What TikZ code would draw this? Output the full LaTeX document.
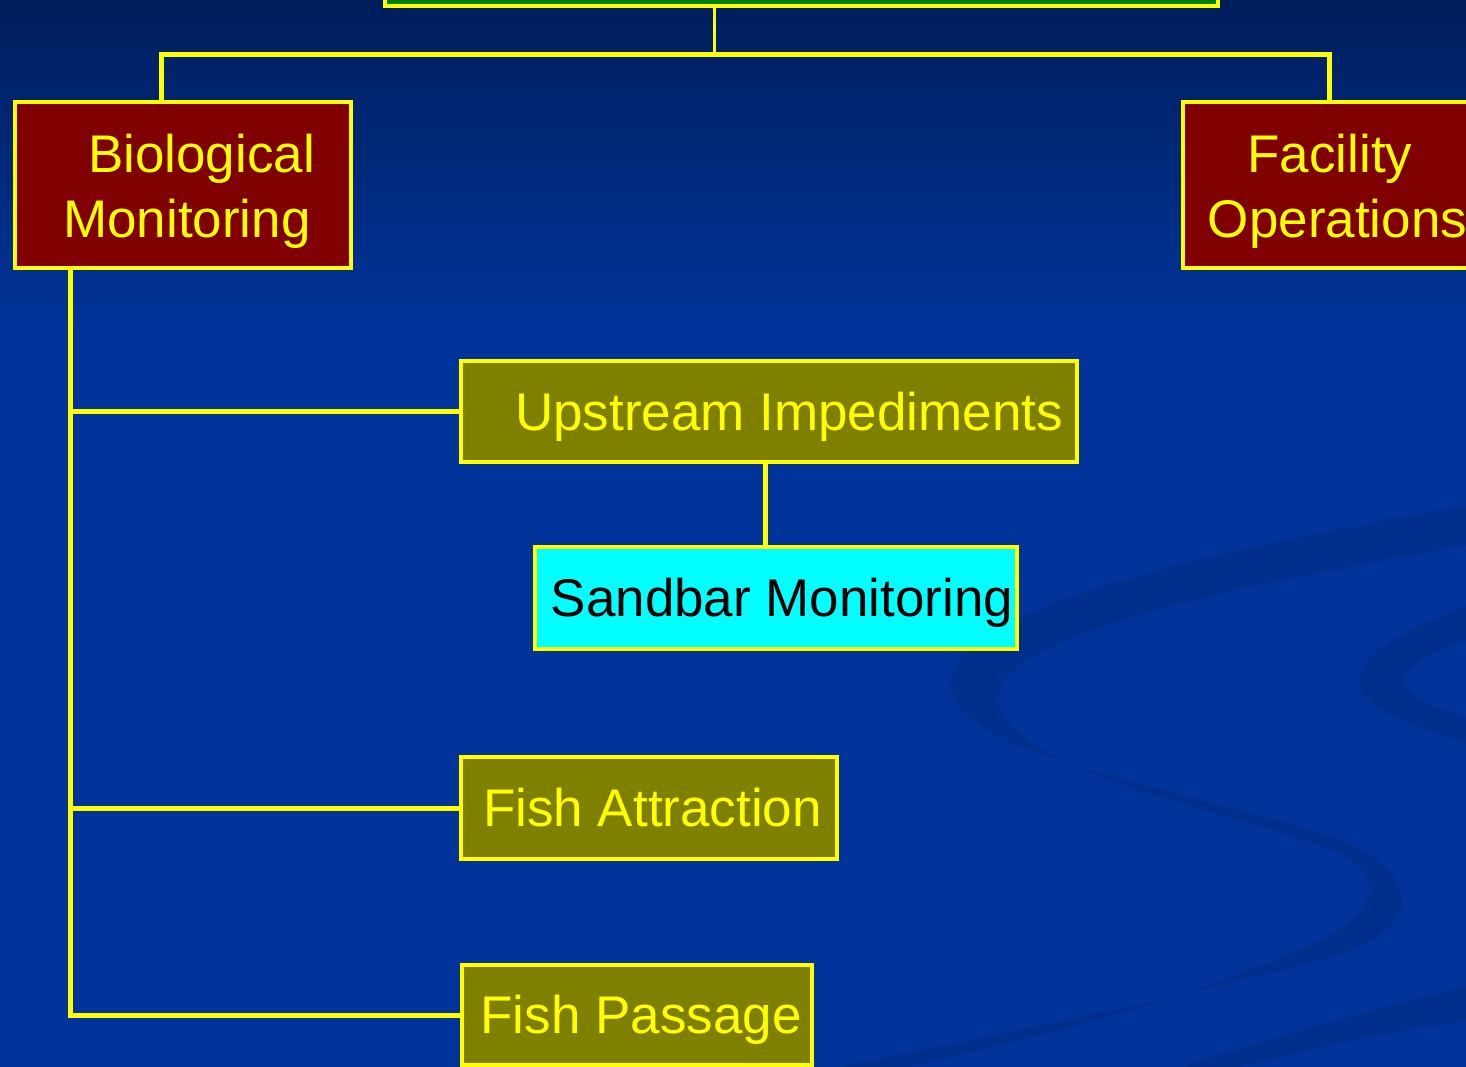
\documentclass[tikz,border=0pt]{standalone}
\usepackage{fontspec}
\setmainfont{Liberation Sans}
\definecolor{bgtop}{RGB}{0,30,92}
\definecolor{bgdeep}{RGB}{0,52,154}
\definecolor{swoosh}{RGB}{0,46,140}
\definecolor{boxline}{RGB}{255,255,0}
\definecolor{topgreen}{RGB}{0,128,0}
\definecolor{maroon}{RGB}{128,0,0}
\definecolor{olivebox}{RGB}{128,128,0}
\definecolor{sandcyan}{RGB}{0,255,255}
\begin{document}
\begin{tikzpicture}[x=1pt,y=-1pt,
		box/.style={draw=boxline,line width=4.5pt,outer sep=0pt,inner xsep=0pt,anchor=north west,
			font=\fontsize{53}{65}\selectfont,text=boxline},
		oneline/.style={box,text height=46pt,text depth=9pt},
		link/.style={draw=boxline,line width=5pt}]
		\useasboundingbox (0,0) rectangle (1466,1067);
		\clip (0,0) rectangle (1466,1067);
		% background
		\fill[bgdeep] (0,0) rectangle (1466,1067);
		\shade[top color=bgtop,bottom color=bgdeep] (0,0) rectangle (1466,330);
		\fill[swoosh] (1470,505) .. controls (1150,560) and (940,620) .. (952,690)
			.. controls (965,760) and (1200,790) .. (1340,840)
			.. controls (1430,875) and (1420,935) .. (1320,960)
			.. controls (1150,1005) and (950,1045) .. (800,1075)
			-- (880,1075) .. controls (1000,1045) and (1180,1005) .. (1310,945)
			.. controls (1385,910) and (1390,870) .. (1320,845)
			.. controls (1180,800) and (985,760) .. (1000,690)
			.. controls (1010,640) and (1200,590) .. (1470,545) -- cycle;
		\fill[swoosh] (1470,605) .. controls (1400,630) and (1350,660) .. (1360,690)
			.. controls (1370,710) and (1410,725) .. (1470,745)
			-- (1470,720) .. controls (1430,705) and (1400,695) .. (1405,680)
			.. controls (1410,665) and (1430,650) .. (1470,640) -- cycle;
		\fill[swoosh] (1470,985) .. controls (1350,1015) and (1250,1045) .. (1170,1070)
			-- (1230,1070) .. controls (1300,1050) and (1400,1030) .. (1470,1020) -- cycle;
		% boxes
		\node[box,fill=topgreen,minimum width=833pt,minimum height=100pt,anchor=south west] (top) at (385,6) {};
		\node[box,fill=maroon,minimum width=336pt,minimum height=166pt,align=center] (bio) at (15,102)
			{\rule{0pt}{51pt}\hspace*{37pt}Biological\\\hspace*{8pt}Monitoring};
		\node[box,fill=maroon,minimum width=309pt,minimum height=166pt,align=center] (fac) at (1183,102)
			{\rule{0pt}{51pt}Facility\hspace*{15pt}\\Operations};
		\node[oneline,fill=olivebox,minimum width=616pt,minimum height=101pt] (upstream) at (461,361)
			{\hspace*{40pt}Upstream Impediments};
		\node[oneline,fill=sandcyan,text=black,minimum width=482pt,minimum height=102pt] (sandbar) at (535,547)
			{\hspace*{12pt}Sandbar Monitoring};
		\node[oneline,fill=olivebox,minimum width=376pt,minimum height=102pt] (attract) at (461,757)
			{\hspace*{7pt}Fish Attraction};
		\node[oneline,fill=olivebox,minimum width=350pt,minimum height=100pt] (passage) at (462,965)
			{\hspace*{8pt}Fish Passage};
		% connectors
		\coordinate (bus) at (714,55);
		\coordinate (trunk) at ([xshift=-113pt]bio.south);
		\coordinate (drop) at ([xshift=-4pt]upstream.south);
		\draw[link,line width=3pt] (top.south -| bus) -- (bus);
		\draw[link] ([xshift=-22pt]bio.north) |- (bus) -| ([xshift=-8pt]fac.north);
		\draw[link] (trunk) |- (passage.west);
		\draw[link] (trunk) |- (upstream.west);
		\draw[link] (trunk) |- (attract.west);
		\draw[link] (drop) -- (drop |- sandbar.north);
\end{tikzpicture}
\end{document}
